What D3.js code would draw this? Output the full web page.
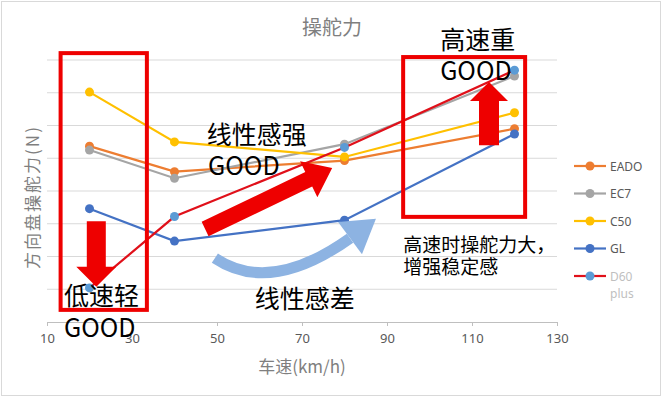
<!DOCTYPE html>
<html>
<head>
<meta charset="utf-8">
<script src="https://cdn.jsdelivr.net/npm/d3@7"></script>
<style>
  body { margin: 0; background: #fff; }
  svg { display: block; font-family: "Noto Sans", "Noto Sans CJK SC", sans-serif; }
</style>
</head>
<body>
<svg width="664" height="398"></svg>
<script>
// data (y axis has no labels, values are in gridline units)
var speeds = [20, 40, 80, 120];
var seriesNames = ["EADO", "EC7", "C50", "GL", "D60 plus"];
var eado = [5.37, 4.59, 4.93, 5.90];
var ec7  = [5.25, 4.39, 5.43, 7.51];
var c50  = [7.02, 5.50, 5.04, 6.39];
var gl   = [3.46, 2.47, 3.11, 5.74];
var d60  = [1.04, 3.22, 5.33, 7.69];
var xTicks = [10, 30, 50, 70, 90, 110, 130];
var yGrid = [0, 1, 2, 3, 4, 5, 6, 7, 8];

var lineColors = ["#ed7d31", "#a5a5a5", "#ffc000", "#4472c4", "#e0101a"];
var dotColors  = ["#ed7d31", "#a5a5a5", "#ffc000", "#4472c4", "#5b9bd5"];
var allSeries = [eado, ec7, c50, gl, d60];

var svg = d3.select("svg");
var red = "#ee0000";

svg.append("rect")
    .attr("x", 1.5).attr("y", 1.5).attr("width", 659).attr("height", 394)
    .attr("fill", "#fff").attr("stroke", "#d9d9d9");

var x = d3.scaleLinear().domain([10, 130]).range([47, 557]);
var y = d3.scaleLinear().domain([0, 8]).range([322, 60]);

// gridlines
svg.append("g").selectAll("line")
    .data(yGrid.slice(1))
    .enter().append("line")
    .attr("x1", x(10)).attr("x2", x(130))
    .attr("y1", function(d) { return y(d); })
    .attr("y2", function(d) { return y(d); })
    .attr("stroke", "#d9d9d9");

// x axis
var xAxis = svg.append("g")
    .attr("transform", "translate(0," + y(0) + ")")
    .call(d3.axisBottom(x).tickValues(xTicks).tickSize(4).tickPadding(8));
xAxis.select(".domain").attr("stroke", "#bfbfbf");
xAxis.selectAll(".tick line").attr("stroke", "#bfbfbf");
xAxis.selectAll("text")
    .attr("fill", "#595959")
    .style("font-size", "13px")
    .style("font-family", "Noto Sans");

// titles
svg.append("text")
    .attr("x", 332).attr("y", 35)
    .attr("text-anchor", "middle")
    .attr("fill", "#7f7f7f")
    .style("font-family", "Noto Sans CJK SC")
    .style("font-size", "20px")
    .text("操舵力");

svg.append("text")
    .attr("x", 302).attr("y", 373)
    .attr("text-anchor", "middle")
    .attr("fill", "#7f7f7f")
    .style("font-family", "Noto Sans CJK SC")
    .style("font-size", "17px")
    .text("车速(km/h)");

svg.append("text")
    .attr("transform", "translate(31,197) rotate(-90)")
    .attr("text-anchor", "middle")
    .attr("dominant-baseline", "central")
    .attr("fill", "#7f7f7f")
    .style("font-family", "Noto Sans CJK SC")
    .style("font-size", "17px")
    .style("letter-spacing", "2px")
    .text("方向盘操舵力(N)");

// series
var line = d3.line()
    .x(function(d, i) { return x(speeds[i]); })
    .y(function(d) { return y(d); });

allSeries.forEach(function(vals, k) {
    var g = svg.append("g").attr("class", "series");
    g.append("path")
        .datum(vals)
        .attr("d", line)
        .attr("fill", "none")
        .attr("stroke", lineColors[k])
        .attr("stroke-width", 2.2);
    g.selectAll("circle")
        .data(vals)
        .enter().append("circle")
        .attr("cx", function(d, i) { return x(speeds[i]); })
        .attr("cy", function(d) { return y(d); })
        .attr("r", 4.5)
        .attr("fill", dotColors[k]);
});

// legend
var legend = svg.append("g").selectAll("g")
    .data(seriesNames)
    .enter().append("g")
    .attr("transform", function(d, i) { return "translate(574," + (166 + i * 27.5) + ")"; });
legend.append("line")
    .attr("x1", 0).attr("x2", 32)
    .attr("stroke", function(d, i) { return lineColors[i]; })
    .attr("stroke-width", 2.2);
legend.append("circle")
    .attr("cx", 16).attr("r", 4.5)
    .attr("fill", function(d, i) { return dotColors[i]; });
legend.append("text")
    .attr("x", 36).attr("y", 4.5)
    .attr("fill", function(d, i) { return i == 4 ? "#bfbfbf" : "#595959"; })
    .style("font-size", "12px")
    .each(function(d) {
        var parts = d.split(" ");
        var t = d3.select(this);
        parts.forEach(function(p, j) {
            t.append("tspan").attr("x", 36).attr("dy", j ? 17 : 0).text(p);
        });
    });

// annotations, placed in data space
function blockArrow(x1, y1, x2, y2, sw, hw, hl) {
    var ax = x(x1), ay = y(y1), bx = x(x2), by = y(y2);
    var len = Math.hypot(bx - ax, by - ay);
    var ux = (bx - ax) / len, uy = (by - ay) / len;
    var nx = -uy, ny = ux;
    var cx = bx - ux * hl, cy = by - uy * hl;
    var pts = [
        [ax + nx * sw / 2, ay + ny * sw / 2],
        [cx + nx * sw / 2, cy + ny * sw / 2],
        [cx + nx * hw / 2, cy + ny * hw / 2],
        [bx, by],
        [cx - nx * hw / 2, cy - ny * hw / 2],
        [cx - nx * sw / 2, cy - ny * sw / 2],
        [ax - nx * sw / 2, ay - ny * sw / 2]
    ];
    svg.append("polygon")
        .attr("points", pts.map(function(p) { return p.join(","); }).join(" "))
        .attr("fill", red);
}

function box(xa, xb, ya, yb) {
    svg.append("rect")
        .attr("x", x(xa)).attr("y", y(ya))
        .attr("width", x(xb) - x(xa)).attr("height", y(yb) - y(ya))
        .attr("fill", "none")
        .attr("stroke", red)
        .attr("stroke-width", 4);
}

box(13.2, 33.5, 8.21, 0.37);
box(93.8, 122.5, 8.09, 3.21);

blockArrow(21.6, 3.08, 21.6, 1.08, 19, 40, 20);
blockArrow(114, 5.40, 114, 7.33, 20, 38, 19);
blockArrow(47.2, 2.84, 77.1, 4.70, 16, 40, 26);

// blue curved arrow
var arcBlue = "#8db3e2";
var p0 = [x(49.5), y(1.95)], p1 = [x(62.5), y(0.82)], p2 = [x(81.3), y(2.56)];
svg.append("path")
    .attr("d", "M" + p0 + "Q" + p1 + " " + p2)
    .attr("fill", "none")
    .attr("stroke", arcBlue)
    .attr("stroke-width", 11);
var tip = [x(87.4), y(3.15)];
var dx = tip[0] - p2[0], dy = tip[1] - p2[1], dl = Math.hypot(dx, dy);
var px = -dy / dl * 20, py = dx / dl * 20;
svg.append("polygon")
    .attr("points", [[p2[0] + px, p2[1] + py], tip, [p2[0] - px, p2[1] - py]].map(function(p) { return p.join(","); }).join(" "))
    .attr("fill", arcBlue);

// notes
var notes = [
    {t: "低速轻", x: 14.0, y: 0.52, s: 25},
    {t: "GOOD", x: 14.0, y: -0.46, s: 25},
    {t: "线性感强", x: 47.6, y: 5.44, s: 25},
    {t: "GOOD", x: 47.9, y: 4.49, s: 25},
    {t: "高速重", x: 102.5, y: 8.34, s: 25},
    {t: "GOOD", x: 102.5, y: 7.39, s: 25},
    {t: "线性感差", x: 58.9, y: 0.43, s: 25},
    {t: "高速时操舵力大，", x: 93.8, y: 2.14, s: 19},
    {t: "增强稳定感", x: 93.8, y: 1.47, s: 19}
];
svg.append("g").selectAll("text")
    .data(notes)
    .enter().append("text")
    .attr("x", function(d) { return x(d.x); })
    .attr("y", function(d) { return y(d.y); })
    .attr("fill", "#000")
    .style("font-family", "Noto Sans CJK SC")
    .style("font-size", function(d) { return d.s + "px"; })
    .text(function(d) { return d.t; });
</script>
</body>
</html>
